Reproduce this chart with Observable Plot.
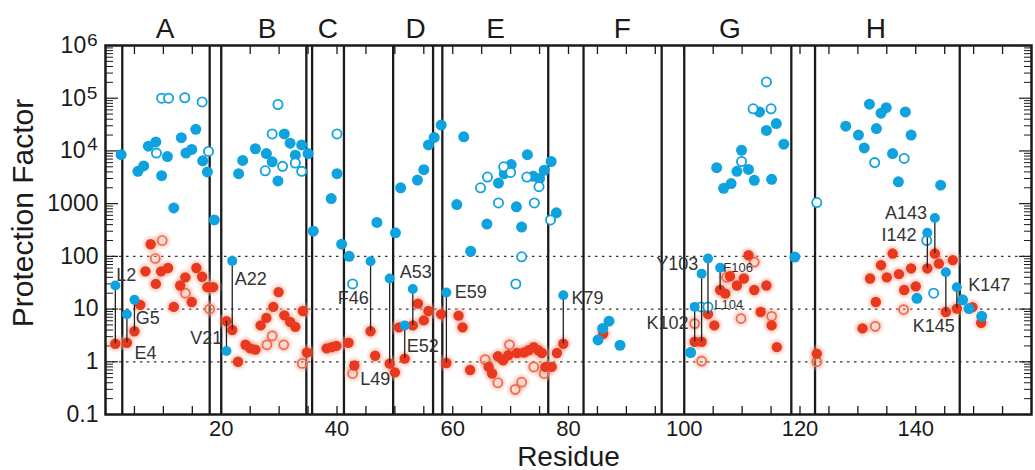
<!DOCTYPE html>
<html><head><meta charset="utf-8">
<script src="https://cdn.jsdelivr.net/npm/d3@7"></script>
<script src="https://cdn.jsdelivr.net/npm/@observablehq/plot@0.6"></script>
<style>body{margin:0;background:#fff}#chart svg{display:block}</style>
</head><body><div id="chart"></div>
<script>
// ---------- data (residue, protection factor) ----------
const helixNames   = ["A","B","C","D","E","F","G","H"];
const helixCenters = [10.3, 27.9, 38.4, 53.6, 67.4, 89.3, 107.9, 133.1];
const helixBounds  = [2.9, 18.0, 20.0, 34.7, 35.7, 41.2, 49.7, 56.6, 58.2, 76.5, 82.6, 96.1, 100.0, 118.5, 122.6, 147.6];
const gridValues   = [1, 10, 100];

const yTickValues = [0.1, 1, 10, 100, 1000, 1e4, 1e5, 1e6];
const yTickLabels = ["0.1", "1", "10", "100", "1000", "10\u2074", "10\u2075", "10\u2076"];
const xTickLabels = [20, 40, 60, 80, 100, 120, 140];
const xMinorTicks = d3.range(5, 160, 5);

const blueFilled = [
  [2.7,8500],[5.6,4100],[6.6,5200],[7.4,12300],[8.7,14800],[9.7,3400],[10.7,7800],[11.8,830],
  [13.1,17800],[13.9,9100],[14.9,10700],[15.6,25700],[16.8,6500],[17.6,4000],[18.8,490],
  [23.0,3700],[23.7,6600],[25.9,11000],[27.8,8900],[28.8,6200],[29.8,2700],[30.9,21000],[31.9,14000],
  [32.8,8300],[33.9,13000],[35.0,8900],[35.9,300],[39.0,1250],[40.0,3700],[40.8,170],[42.1,100],
  [46.9,440],[50.1,280],[51.0,2000],[53.9,2800],[55.0,4400],[55.8,13000],[56.8,18000],[58.0,31000],
  [60.7,960],[61.9,18500],[63.1,125],[65.9,410],[67.9,2460],[68.9,3700],[70.1,5500],[71.0,870],
  [71.9,360],[72.9,8500],[73.9,3300],[75.0,3000],[75.8,4300],[77.0,6300],[77.9,670],
  [85.1,2.6],[85.9,4.3],[87.0,5.9],[88.9,2.06],
  [101.1,1.5],[105.6,4800],[106.8,1950],[108.1,2400],[109.1,4100],[109.9,10300],[111.1,4450],
  [112.1,2770],[113.0,55000],[114.2,24500],[115.1,2900],[115.9,33000],[117.2,13400],[119.1,97],
  [127.9,29500],[130.1,20000],[131.1,11400],[132.0,77000],[133.2,26500],[134.0,52000],[134.9,66000],
  [136.0,8900],[137.0,2600],[138.2,55000],[139.2,20000],[140.2,16],[144.3,2240],[148.1,15],
  [149.2,10.2],[151.4,7.3]
];
const blueOpen = [
  [9.7,100000],[10.9,100000],[13.7,102000],[16.7,85000],[8.8,9100],[17.8,9800],
  [29.8,76000],[28.8,21000],[27.6,4200],[30.6,5100],[32.8,5900],[33.9,4100],[40.0,21000],[42.7,30],
  [64.8,2000],[66.0,3200],[67.9,1030],[68.8,5000],[70.0,3900],[71.9,98],[70.9,30],[72.8,3200],
  [74.1,1030],[74.9,2100],[76.9,490],
  [102.9,11],[104.1,11],[109.9,6300],[111.9,63000],[114.2,204000],[115.0,63000],[122.9,1050],
  [132.9,6000],[138.0,7200],[141.9,200],[143.1,20]
];
const redFilled = [
  [6.0,12],[7.8,170],[6.9,52],[8.7,30],[9.6,52],[10.8,60],[11.8,11],[12.9,28],[13.8,40],
  [14.9,13.6],[15.7,60],[16.7,41],[17.6,26],[18.6,26],
  [22.9,1.0],[24.2,2.1],[25.0,1.8],[25.9,1.7],[26.8,4.9],[27.8,6.8],[29.0,11],[29.9,21],[30.9,7.6],
  [31.9,5.7],[32.8,4.6],[34.1,9.2],[34.8,1.5],
  [38.2,1.8],[39.1,1.9],[39.9,2.0],[42.0,2.3],[43.0,0.85],
  [46.6,1.3],[50.0,0.63],[50.7,4.5],[54.0,12.7],[55.0,6.1],[55.8,9.2],[58.0,8],
  [61.0,7.5],[61.7,4.5],[63.0,0.7],[66.2,0.8],[66.8,0.6],[67.8,1.27],[68.7,1.07],[69.6,1.33],
  [71.1,1.47],[72.3,1.5],[73.1,1.65],[74.0,1.9],[74.8,1.65],[75.4,1.47],[76.0,0.8],[77.1,0.8],[78.0,1.47],
  [86.0,3.4],
  [105.2,4.9],[107.1,19.6],[107.9,42],[109.1,28],[110.3,38],[111.1,105],[112.1,23],[114.2,28],
  [113.2,8.8],[115.1,4.9],[116.0,1.9],[122.9,1.43],
  [130.8,4.3],[133.1,13.6],[132.1,38],[134.0,68],[135.0,40],[136.0,113],[137.1,46],[138.0,23],
  [139.2,59],[140.0,27],[144.0,73],[146.4,85],[149.8,10.9],[151.3,5.5]
];
const redOpen = [
  [9.8,200],[8.6,91],[13.8,20],[18.0,10],
  [27.9,2.1],[28.8,3.1],[30.8,2.1],[34.0,0.93],[42.7,0.6],
  [65.6,1.1],[67.8,0.4],[69.8,2.1],[70.8,0.3],[71.9,0.41],[74.0,0.8],[75.8,0.6],
  [101.8,5.3],[103.0,1.03],[107.3,40],[109.8,6.6],[112.1,78],[115.1,7.3],[122.9,1.0],
  [133.0,4.7],[137.9,9.8]
];

// labelled residues: blue value joined to red value
const labelNames = ["L2","E4","G5","V21","A22","F46","L49","E52","A53","E59","K79","K102","Y103","L104","F106","I142","A143","K145","K147"];
const labelRes   = [1.7, 3.7, 5.0, 20.9, 21.9, 45.8, 49.1, 51.7, 53.1, 58.9, 79.1, 101.8, 103.0, 104.1, 106.2, 142.0, 143.3, 145.2, 147.1];
const labelBlue  = [28, 8, 15, 1.6, 82, 81, 38, 4.9, 24, 20.6, 18.3, 11, 47, 91, 61, 280, 535, 50, 26];
const labelRed   = [2.2, 2.3, 3.8, 5.9, 4, 3.8, 0.92, 1.15, 4.9, 0.95, 2.2, 2.4, 2.4, 8, 23, 59, 113, 8.8, 10.2];
const labelTextRes = [3.6, 6.9, 7.3, 17.4, 25.1, 42.8, 46.6, 54.8, 53.6, 63.1, 83.3, 97.1, 98.8, 107.7, 109.3, 137.1, 138.3, 143.1, 152.7];
const labelTextPF  = [44, 1.48, 6.8, 2.85, 37, 16.3, 0.47, 2.0, 49, 21, 15.8, 5.5, 71, 11.8, 60, 255, 660, 4.65, 28.7];

// ---------- build ----------
const toPts = arr => arr.map(([res, pf]) => ({res, pf}));
const bF = toPts(blueFilled), bO = toPts(blueOpen), rF = toPts(redFilled), rO = toPts(redOpen);
const labels = labelNames.map((name, i) => ({
  name, res: labelRes[i], blue: labelBlue[i], red: labelRed[i], tx: labelTextRes[i], ty: labelTextPF[i],
  small: name === "L104" || name === "F106"
}));
const rEnds = labels.map(d => ({res: d.res, pf: d.red}));
const allRed = [...rF, ...rO, ...rEnds];
const yMinor = yTickValues.flatMap(v => v < 1e6 ? d3.range(2, 10).map(k => v * k) : []);

const BLUE = "#0ea2de", RED = "#e8391f", RED_OPEN = "#ee6a4e", INK = "#1a1a1a";
const font = "'Liberation Sans', Arial, Helvetica, sans-serif";

const chart = Plot.plot({
  width: 1035, height: 470,
  marginLeft: 105, marginRight: 4, marginTop: 45, marginBottom: 56,
  style: {fontFamily: font, background: "#fff", color: INK},
  x: {domain: [0, 160], axis: null},
  y: {type: "log", domain: [0.1, 1e6], axis: null},
  marks: [
    Plot.ruleY(gridValues, {y: d => d, stroke: "#333", strokeWidth: 1.3, strokeDasharray: "2.5,4.5"}),
    Plot.ruleX(helixBounds, {x: d => d, stroke: INK, strokeWidth: 2.3}),

    // inward ticks (left / right / bottom / top)
    Plot.axisY(yTickValues, {anchor: "left", tickSize: 13, dx: 13, fill: "none", label: null, strokeWidth: 1.2}),
    Plot.axisY(yMinor, {anchor: "left", tickSize: 8, dx: 8, fill: "none", label: null, strokeWidth: 1}),
    Plot.axisY(yTickValues, {anchor: "right", tickSize: 13, dx: -13, fill: "none", label: null, strokeWidth: 1.2}),
    Plot.axisY(yMinor, {anchor: "right", tickSize: 8, dx: -8, fill: "none", label: null, strokeWidth: 1}),
    Plot.axisX(xMinorTicks, {anchor: "bottom", tickSize: 8, dy: -8, fill: "none", label: null, strokeWidth: 1.3}),
    Plot.axisX(xMinorTicks, {anchor: "top", tickSize: 8, dy: 8, fill: "none", label: null, strokeWidth: 1.3}),

    // tick labels
    Plot.axisY(yTickValues, {anchor: "left", tickSize: 0, tickPadding: 7, label: null, fontSize: 23,
      tickFormat: d => yTickLabels[yTickValues.indexOf(d)]}),
    Plot.axisX(xTickLabels, {anchor: "bottom", tickSize: 0, tickPadding: 6, label: null, fontSize: 22,
      tickFormat: d => String(d)}),

    // red halo, red points
    Plot.dot(allRed, {x: "res", y: "pf", r: 9, fill: "#f6b4a4", fillOpacity: 0.22}),
    Plot.dot(allRed, {x: "res", y: "pf", r: 7, fill: "#f29a85", fillOpacity: 0.25}),
    Plot.dot(rO, {x: "res", y: "pf", r: 4.5, stroke: RED_OPEN, strokeWidth: 1.7, fill: "none"}),
    Plot.dot([...rF, ...rEnds], {x: "res", y: "pf", r: 5.2, fill: RED}),

    // blue points
    Plot.dot(bF, {x: "res", y: "pf", r: 5.5, fill: BLUE}),
    Plot.dot(bO, {x: "res", y: "pf", r: 4.6, stroke: BLUE, strokeWidth: 1.8, fill: "#fff"}),

    // connectors for labelled residues
    Plot.ruleX(labels, {x: "res", y1: "red", y2: "blue", stroke: "#222", strokeWidth: 1.3}),
    Plot.dot(labels, {x: "res", y: "blue", r: 5, fill: BLUE}),
    Plot.text(labels.filter(d => !d.small), {x: "tx", y: "ty", text: "name", fontSize: 18, fill: "#333"}),
    Plot.text(labels.filter(d => d.small), {x: "tx", y: "ty", text: "name", fontSize: 13, fill: "#333"}),

    Plot.frame({stroke: INK, strokeWidth: 2.5}),

    // helix letters and axis titles
    Plot.text(helixNames, {x: (d, i) => helixCenters[i], text: d => d, frameAnchor: "top",
      lineAnchor: "bottom", dy: -8, fontSize: 28, fill: INK}),
    Plot.text(["Residue"], {text: d => d, frameAnchor: "bottom", textAnchor: "middle", lineAnchor: "bottom",
      dy: 51, fontSize: 28, fill: INK}),
    Plot.text(["Protection Factor"], {text: d => d, frameAnchor: "left", textAnchor: "middle", lineAnchor: "middle",
      rotate: -90, dx: -82, dy: -17, fontSize: 30, fill: INK})
  ]
});
document.getElementById("chart").append(chart);

// enlarge the superscript exponent glyphs (text content unchanged)
d3.select(chart).selectAll("text").each(function () {
  const t = this.textContent;
  const m = /^10([\u2070-\u2079])$/.exec(t);
  if (m) {
    const el = d3.select(this);
    el.text("10");
    el.append("tspan").attr("font-size", "1.3em").text(m[1]);
  }
});
</script>
</body></html>
